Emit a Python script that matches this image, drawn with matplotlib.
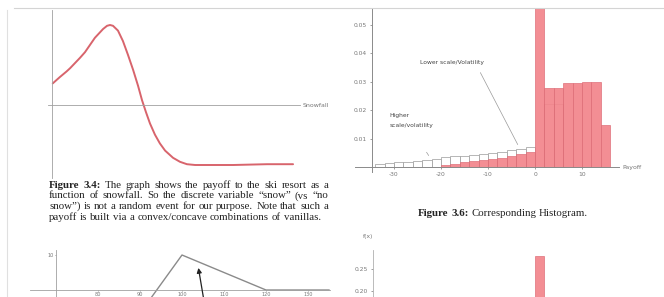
import matplotlib
matplotlib.use("Agg")
import matplotlib.pyplot as plt
from matplotlib.lines import Line2D

W, H = 664, 297
SERIF = "Liberation Serif"
SANS = "DejaVu Sans"
FS = 7.8

# payoff to the ski resort vs snowfall (figure 3.4)
snowfall = [0.03, 0.32, 0.59, 0.73, 1.13, 1.33, 1.53, 1.73, 1.94, 2.06, 2.22, 2.34,
            2.46, 2.66, 2.86, 3.06, 3.27, 3.47, 3.63, 3.79, 3.95, 4.15, 4.35, 4.56,
            4.88, 5.16, 5.44, 5.77, 5.97, 7.30, 8.67, 9.72]
payoff = [0.27, 0.35, 0.42, 0.46, 0.59, 0.66, 0.75, 0.84, 0.91, 0.95, 0.99, 1.00,
          0.99, 0.93, 0.80, 0.63, 0.44, 0.24, 0.06, -0.09, -0.23, -0.37, -0.48, -0.57,
          -0.66, -0.71, -0.74, -0.75, -0.75, -0.75, -0.74, -0.74]

# spread payoff (bottom left, cut off)
strike = [92, 100, 120, 135]
spread_value = [-3.3, 10, 0, 0]
strike_ticks = [80, 90, 100, 110, 120, 130]

# histogram (figure 3.6), bins of width 2
bin_width = 2
white_left = list(range(-34, 0, 2)) + [2, 4]
white_height = [0.0012, 0.0014, 0.0016, 0.0018, 0.0020, 0.0025, 0.0028, 0.0034, 0.0037,
                0.0040, 0.0043, 0.0047, 0.0050, 0.0054, 0.0058, 0.0063, 0.0070,
                0.022, 0.022]
red_left = list(range(-20, 0, 2)) + list(range(0, 16, 2))
red_height = [0.0008, 0.0012, 0.0016, 0.0020, 0.0024, 0.0028, 0.0033, 0.0038, 0.0045, 0.0053,
              0.075, 0.0277, 0.0277, 0.0295, 0.0295, 0.0297, 0.0297, 0.0147]
hist_xticks = [-30, -20, -10, 0, 10]
hist_yticks = [0.01, 0.02, 0.03, 0.04, 0.05]

# second histogram (bottom right, cut off)
hist2_left = [0]
hist2_height = [0.28]
hist2_yticks = [0.20, 0.25]

caption_34 = [
    "Figure 3.4: The graph shows the payoff to the ski resort as a",
    "function of snowfall.  So the discrete variable \u201csnow\u201d (vs \u201cno",
    "snow\u201d) is not a random event for our purpose. Note that such a",
    "payoff is built via a convex/concave combinations of vanillas.",
]
caption_36 = "Figure 3.6: Corresponding Histogram."

RED = "#f3848b"
RED_EDGE = "#dc6a74"
GRAY = "#777777"

fig = plt.figure(figsize=(W / 100, H / 100), dpi=100)
fig.patch.set_facecolor("white")
renderer = fig.canvas.get_renderer()


def px_axes(x0, y0, x1, y1):
    ax = fig.add_axes([x0 / W, 1 - y1 / H, (x1 - x0) / W, (y1 - y0) / H])
    ax.patch.set_alpha(0)
    return ax


def word_widths(words, bold_n):
    out = []
    for i, w in enumerate(words):
        t = fig.text(0, 0, w, fontsize=FS, family=SERIF,
                     weight="bold" if i < bold_n else "normal")
        out.append(t.get_window_extent(renderer).width)
        t.remove()
    return out


def draw_words(words, x, y, gap, bold_n):
    widths = word_widths(words, bold_n)
    for i, w in enumerate(words):
        fig.text(x / W, 1 - y / H, w, fontsize=FS, family=SERIF, color="#222222",
                 va="center", weight="bold" if i < bold_n else "normal")
        x += widths[i] + gap


def space_width():
    a = fig.text(0, 0, "a a", fontsize=FS, family=SERIF)
    b = fig.text(0, 0, "aa", fontsize=FS, family=SERIF)
    s = a.get_window_extent(renderer).width - b.get_window_extent(renderer).width
    a.remove()
    b.remove()
    return s


# page edges
fig.add_artist(Line2D([14 / W, 1], [1 - 8 / H] * 2, transform=fig.transFigure,
                      color="#d4d4d4", lw=0.8))
fig.add_artist(Line2D([7 / W] * 2, [0, 1 - 10 / H], transform=fig.transFigure,
                      color="#e0e0e0", lw=0.8))

# ---- top left: payoff vs snowfall
ax = px_axes(48, 10, 300, 178)
ax.set_xlim(-0.161, 10.0)
ax.set_ylim(-0.9125, 1.1875)
for s in ["top", "right"]:
    ax.spines[s].set_visible(False)
ax.spines["left"].set_position(("data", 0))
ax.spines["bottom"].set_position(("data", 0))
for s in ["left", "bottom"]:
    ax.spines[s].set_color("#a0a0a0")
    ax.spines[s].set_linewidth(0.6)
ax.set_xticks([])
ax.set_yticks([])
ax.plot(snowfall, payoff, color="#d8646c", lw=1.4, solid_capstyle="round")
ax.text(10.1, 0, "Snowfall", fontsize=4.5, color=GRAY, va="center", ha="left",
        family=SANS, clip_on=False)

# ---- caption 3.4, justified
sp = space_width()
ys = [185.5, 196, 206.5, 217]
for k, line in enumerate(caption_34):
    words = line.split()
    bold_n = 2 if k == 0 else 0
    widths = word_widths(words, bold_n)
    if k < len(caption_34) - 1:
        gap = (328 - 49 - sum(widths)) / (len(words) - 1)
    else:
        gap = sp
    draw_words(words, 49, ys[k], gap, bold_n)

# ---- bottom left: spread payoff
ax = px_axes(30, 250, 330, 320)
ax.set_xlim(63.81, 135.24)
ax.set_ylim(-8.57, 11.43)
for s in ["top", "right"]:
    ax.spines[s].set_visible(False)
ax.spines["left"].set_position(("data", 70))
ax.spines["bottom"].set_position(("data", 0))
for s in ["left", "bottom"]:
    ax.spines[s].set_color("#a0a0a0")
    ax.spines[s].set_linewidth(0.6)
ax.set_xticks(strike_ticks)
ax.set_xticklabels([str(v) for v in strike_ticks])
ax.set_yticks([10])
ax.tick_params(labelsize=3.6, colors=GRAY, length=1, width=0.5, pad=0.5)
ax.plot(strike, spread_value, color="#8a8a8a", lw=1.0)
ax.annotate("", xy=(103.8, 7.1), xytext=(105.5, -5),
            arrowprops=dict(arrowstyle="-|>", color="#222222", lw=0.9,
                            mutation_scale=7))

# ---- top right: histogram
ax = px_axes(355, 8, 619, 172)
ax.set_xlim(-38.3, 17.87)
ax.set_ylim(-0.00175, 0.0558)
for s in ["top", "right"]:
    ax.spines[s].set_visible(False)
ax.spines["left"].set_position(("data", -34.68))
ax.spines["bottom"].set_position(("data", 0))
for s in ["left", "bottom"]:
    ax.spines[s].set_color("#8a8a8a")
    ax.spines[s].set_linewidth(0.7)
ax.bar(white_left, white_height, width=bin_width, align="edge", color="white",
       edgecolor="#9a9a9a", lw=0.5, zorder=1)
ax.bar(red_left, red_height, width=bin_width, align="edge", color=RED,
       edgecolor=RED_EDGE, lw=0.5, alpha=0.92, zorder=2)
ax.set_xticks(hist_xticks)
ax.set_xticklabels([str(v) for v in hist_xticks])
ax.set_yticks(hist_yticks)
ax.set_yticklabels(["%.2f" % v for v in hist_yticks])
ax.tick_params(labelsize=4.3, colors=GRAY, length=1.5, width=0.5, pad=2)
ax.text(18.6, 0, "Payoff", fontsize=4.5, color=GRAY, va="center", ha="left",
        family=SANS, clip_on=False)
ax.text(-24.5, 0.0365, "Lower scale/Volatility", fontsize=4.3, color="#444444",
        va="center", ha="left")
ax.annotate("", xy=(-3.4, 0.007), xytext=(-11.9, 0.034),
            arrowprops=dict(arrowstyle="-", color="#999999", lw=0.5))
ax.text(-31, 0.0162, "Higher\nscale/volatility", fontsize=4.3, color="#444444",
        va="center", ha="left", linespacing=2.2)
ax.annotate("", xy=(-22.3, 0.0032), xytext=(-23.4, 0.006),
            arrowprops=dict(arrowstyle="-", color="#999999", lw=0.5))

# caption 3.6, centered
words = caption_36.split()
widths = word_widths(words, 2)
total = sum(widths) + sp * (len(words) - 1)
draw_words(words, 503 - total / 2, 213, sp, 2)

# ---- bottom right: second histogram
ax = px_axes(373, 250, 664, 320)
ax.set_xlim(-34.47, 27.45)
ax.set_ylim(0.1341, 0.2932)
for s in ["top", "right", "bottom"]:
    ax.spines[s].set_visible(False)
ax.spines["left"].set_color("#b0b0b0")
ax.spines["left"].set_linewidth(0.6)
ax.bar(hist2_left, hist2_height, width=bin_width, align="edge", color=RED,
       edgecolor=RED_EDGE, lw=0.5, alpha=0.92)
ax.set_xticks([])
ax.set_yticks(hist2_yticks)
ax.set_yticklabels(["%.2f" % v for v in hist2_yticks])
ax.tick_params(labelsize=4.3, colors=GRAY, length=1.5, width=0.5, pad=2)
ax.text(-35.5, 0.325, "f(x)", fontsize=4.3, color=GRAY, va="center", ha="center",
        clip_on=False)

fig.savefig("out.png", dpi=100)
